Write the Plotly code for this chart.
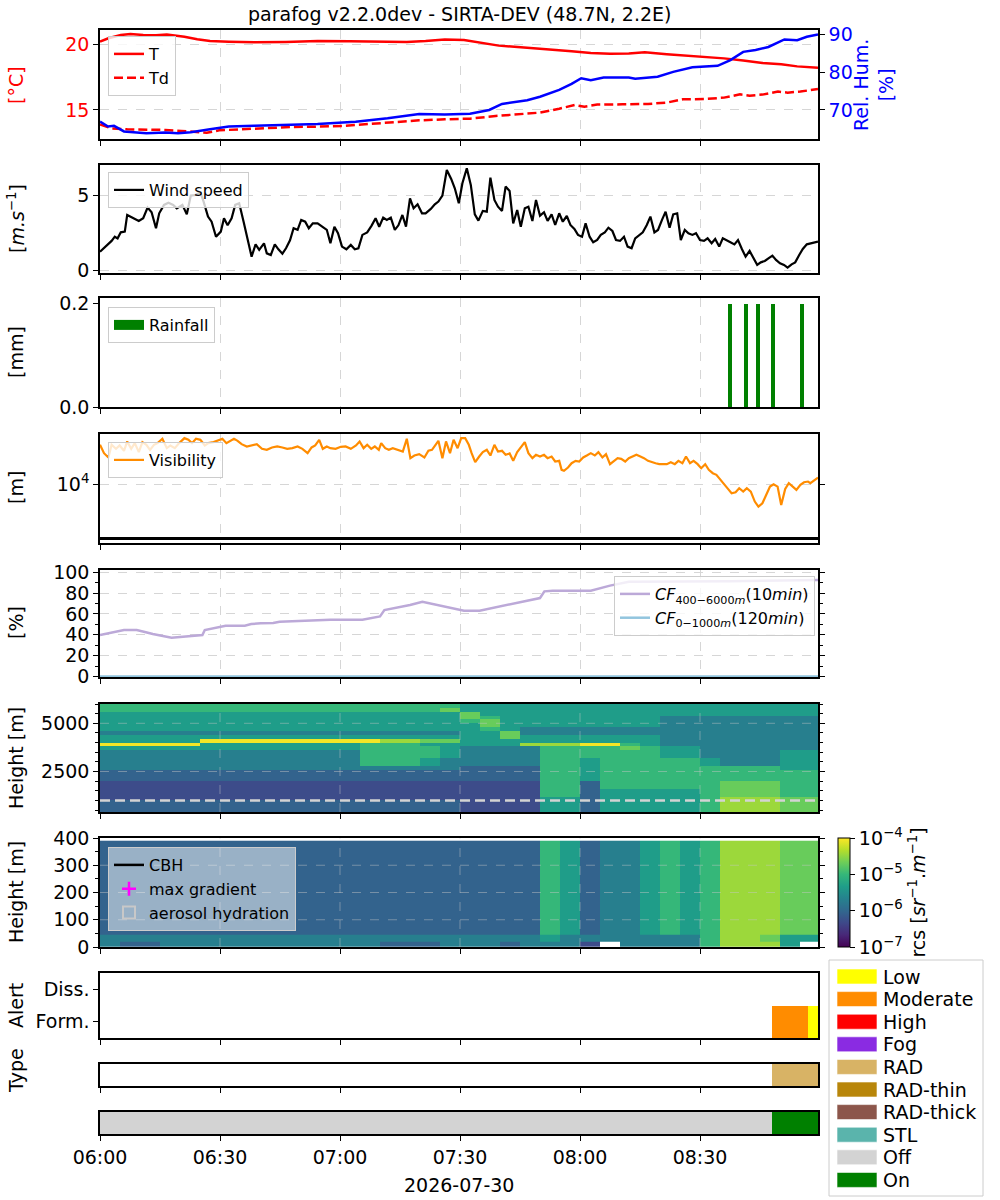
import datetime as dt
import plotly.graph_objects as go

# ------------------------------------------------------------------ data
T0 = dt.datetime(2026, 7, 30, 6, 0)
END_MIN = 179.5
TITLE = "parafog v2.2.0dev - SIRTA-DEV (48.7N, 2.2E)"
DATE_LABEL = "2026-07-30"
TICK_MIN = [0, 30, 60, 90, 120, 150]

# temperature / dew point [°C], relative humidity [%]  (minutes after 06:00)
temp_min = [0, 2.1, 5.2, 7.6, 10.8, 14, 16.7, 21.1, 24.3, 27.5,
            32.2, 38.6, 46.5, 54.4, 62.4, 70.3, 76.7, 81.4, 86.2, 91,
            94.9, 99.7, 105.2, 111.6, 117.9, 122.7, 127.5, 132.2, 136.2, 141.7,
            146.5, 151.3, 156, 160.8, 165.6, 170.3, 174.3, 179.5]
temp_c = [20.2, 20.46, 20.71, 20.79, 20.71, 20.69, 20.74, 20.58, 20.38, 20.25,
          20.2, 20.15, 20.18, 20.25, 20.23, 20.18, 20.18, 20.25, 20.36, 20.33,
          20.15, 19.9, 19.77, 19.64, 19.47, 19.34, 19.29, 19.31, 19.39, 19.24,
          19.14, 19.06, 18.93, 18.76, 18.58, 18.48, 18.32, 18.22]

dew_min = [0, 2.9, 6.8, 11.6, 16.3, 20.3, 23.5, 26.7, 29.8, 35.4,
           41.7, 48.1, 54.4, 60.8, 67.1, 73.5, 79.8, 86.2, 92.5, 98.9,
           105.2, 110, 114.8, 118.7, 121.1, 124.3, 130.6, 137, 141.7, 145.7,
           151.3, 156, 160, 162.4, 165.6, 169.5, 171.9, 175.1, 179.5]
dew_c = [13.9, 13.6, 13.53, 13.53, 13.48, 13.4, 13.32, 13.27, 13.45, 13.53,
         13.6, 13.71, 13.73, 13.78, 13.93, 14.09, 14.21, 14.29, 14.34, 14.54,
         14.7, 14.8, 15.1, 15.38, 15.25, 15.41, 15.43, 15.46, 15.56, 15.81,
         15.84, 15.94, 16.19, 16.09, 16.17, 16.4, 16.32, 16.4, 16.6]

rh_min = [0, 2, 3.5, 6, 11.6, 16.3, 19.5, 22.7, 27.5, 32.2,
          38.6, 46.5, 54.4, 63.9, 71.9, 79.8, 86.2, 92.5, 97.3, 100.5,
          106.8, 110, 114.8, 117.9, 120.3, 122.7, 125.9, 132.2, 133.8, 139.4,
          143.3, 148.1, 151.3, 154.4, 157.6, 160.8, 163.9, 167.1, 171.1, 174.3,
          176.7, 179.5]
rh_pct = [66.9, 65.6, 65.8, 64.3, 63.8, 64.0, 63.8, 64.1, 64.9, 65.6,
          65.8, 66.0, 66.3, 66.9, 67.8, 68.9, 68.8, 69.0, 70.0, 71.6,
          72.6, 73.5, 75.3, 76.9, 78.4, 77.9, 78.6, 78.6, 78.3, 78.8,
          80.1, 81.3, 81.6, 81.7, 83.2, 85.4, 85.9, 86.7, 88.7, 88.5,
          89.4, 90.0]

# wind speed [m/s]
wind_min = [0, 1.3, 2.9, 3.7, 4.4, 5.2, 6.2, 6.8, 8.4, 9.7,
            10.8, 11.9, 12.9, 14.0, 14.8, 16.0, 17.1, 18.3, 19.2, 20.6,
            21.7, 22.7, 23.8, 25.1, 25.9, 27.0, 27.9, 29.0, 30.2, 31.0,
            31.9, 32.9, 33.8, 34.8, 35.9, 37.0, 37.9, 38.9, 39.8, 41.0,
            41.7, 42.7, 43.7, 44.6, 45.6, 46.5, 47.5, 48.4, 49.4, 50.3,
            51.3, 52.2, 53.2, 54.4, 55.7, 56.7, 57.6, 58.6, 59.5, 60.5,
            61.6, 62.7, 63.7, 64.6, 65.6, 66.8, 67.9, 68.9, 69.8, 70.8,
            71.7, 72.7, 73.7, 74.6, 75.6, 76.5, 77.5, 78.4, 79.4, 80.5,
            81.4, 82.7, 83.7, 84.6, 85.6, 86.7, 87.8, 88.7, 89.7, 90.6,
            91.7, 92.7, 93.7, 94.6, 95.7, 96.7, 97.6, 98.6, 99.5, 100.5,
            101.4, 102.4, 103.3, 104.3, 105.2, 106.2, 107.1, 108.1, 109.0, 110.0,
            111.0, 111.9, 112.9, 113.8, 114.8, 115.7, 116.7, 117.6, 118.6, 119.5,
            120.5, 121.4, 122.4, 123.3, 124.3, 125.2, 126.2, 127.1, 128.1, 129.0,
            130.0, 131.0, 131.9, 132.9, 133.8, 134.8, 135.7, 136.7, 137.6, 138.6,
            139.5, 140.5, 141.4, 142.4, 143.3, 144.3, 145.2, 146.2, 147.1, 148.1,
            149.0, 150.0, 151.0, 151.9, 152.9, 153.8, 154.8, 155.7, 156.7, 157.6,
            158.6, 159.5, 160.5, 161.4, 162.4, 163.3, 164.3, 165.2, 166.2, 167.1,
            168.1, 169.0, 170.0, 171.0, 171.9, 172.9, 173.8, 174.8, 175.7, 176.7,
            179.5]
wind_ms = [1.24, 1.58, 1.96, 2.24, 2.13, 2.53, 2.58, 3.69, 3.47, 3.29,
           3.47, 4.18, 3.87, 2.8, 3.8, 4.36, 4.5, 4.36, 4.13, 4.36,
           3.73, 4.98, 5.02, 5.2, 4.58, 3.58, 3.24, 2.24, 2.58, 3.47,
           3.0, 3.47, 4.36, 4.47, 3.24, 1.9, 0.91, 1.73, 1.36, 1.8,
           1.13, 1.02, 1.73, 1.4, 1.11, 1.47, 2.0, 2.8, 2.7, 3.36,
           3.24, 2.8, 3.13, 3.13, 2.9, 2.7, 1.8, 2.9, 2.47, 1.58,
           1.4, 1.69, 1.4, 1.47, 2.36, 2.53, 2.98, 3.47, 2.9, 3.51,
           3.36, 3.51, 2.69, 3.0, 3.69, 2.91, 4.8, 4.13, 4.4, 3.8,
           3.8, 4.09, 4.4, 4.58, 4.98, 6.69, 6.09, 5.47, 4.47, 5.8,
           6.8, 5.69, 3.73, 3.31, 3.96, 3.91, 6.18, 4.69, 4.24, 3.96,
           5.58, 5.29, 3.13, 4.02, 2.91, 4.13, 4.24, 3.29, 4.69, 3.64,
           3.87, 3.29, 3.73, 3.02, 3.8, 3.24, 3.62, 3.02, 2.76, 2.36,
           2.24, 3.13, 2.24, 1.87, 2.02, 2.36, 2.53, 2.84, 2.62, 2.02,
           1.96, 2.24, 1.58, 1.47, 2.13, 2.36, 2.53, 3.02, 3.58, 2.53,
           2.69, 3.36, 3.91, 2.84, 3.73, 3.8, 2.02, 2.69, 2.47, 2.36,
           2.47, 2.02, 1.96, 2.13, 1.8, 2.09, 1.58, 2.13, 2.02, 1.87,
           1.73, 2.02, 1.4, 0.91, 1.29, 0.8, 0.36, 0.53, 0.62, 0.8,
           0.98, 0.69, 0.47, 0.36, 0.18, 0.4, 0.53, 1.02, 1.42, 1.73,
           1.91]

# rainfall [mm]
rain_min = [157.6, 161.5, 164.5, 168.25, 175.5]
rain_mm = [0.2, 0.2, 0.2, 0.2, 0.2]

# visibility [m]
vis_min = [0, 1.0, 2.1, 2.9, 4.0, 4.9, 6.0, 6.8, 7.8, 8.7,
           9.7, 10.6, 11.6, 12.5, 13.5, 14.4, 15.6, 16.7, 17.6, 18.7,
           19.8, 21.1, 22.1, 23.0, 24.0, 25.1, 26.2, 27.1, 28.4, 29.4,
           30.6, 31.6, 32.5, 33.5, 34.4, 35.4, 36.7, 37.9, 39.2, 40.5,
           41.7, 43.0, 44.3, 45.6, 46.8, 48.1, 49.4, 50.6, 51.9, 52.9,
           53.8, 54.8, 55.7, 56.7, 57.6, 58.9, 60.2, 61.4, 62.7, 64.0,
           64.9, 65.9, 66.8, 67.8, 68.7, 69.7, 70.3, 71.3, 72.2, 73.2,
           74.4, 75.7, 76.7, 77.6, 78.6, 79.8, 81.1, 82.1, 83.0, 84.0,
           84.6, 85.6, 86.5, 87.5, 88.4, 89.4, 90.3, 91.3, 92.2, 92.9,
           93.8, 94.8, 95.7, 96.7, 97.6, 98.6, 99.5, 100.5, 101.4, 102.4,
           103.3, 104.3, 105.2, 106.2, 107.1, 108.1, 109.0, 110.0, 111.0, 111.9,
           112.9, 113.8, 114.8, 115.4, 116.0, 117.0, 117.9, 118.9, 119.8, 120.8,
           121.7, 122.7, 123.7, 124.6, 125.6, 126.5, 127.5, 128.4, 129.4, 130.3,
           131.3, 132.2, 133.2, 134.1, 135.1, 136.0, 137.0, 137.9, 138.9, 139.8,
           140.8, 141.7, 142.7, 143.7, 144.6, 145.6, 146.5, 147.5, 148.4, 149.4,
           150.3, 151.3, 152.2, 153.2, 154.1, 155.1, 156.0, 157.0, 157.9, 158.9,
           159.8, 160.8, 161.7, 162.7, 163.7, 164.6, 165.6, 166.5, 167.5, 168.4,
           169.4, 170.3, 171.3, 172.2, 173.2, 174.1, 175.1, 176.0, 177.0, 177.6,
           179.5]
vis_m = [18090, 15950, 14950, 18090, 17030, 17910, 16530, 19020, 17030, 18550,
         16200, 18830, 18090, 16770, 18090, 18550, 19800, 17200, 17910, 17200,
         18550, 20000, 19500, 18550, 19800, 19500, 17910, 18550, 18830, 19210,
         19800, 18550, 19210, 19800, 19210, 18270, 17640, 17910, 18270, 17030,
         16770, 17380, 17640, 17380, 17030, 17200, 17640, 17030, 15950, 17380,
         17910, 19500, 17030, 17640, 17200, 17030, 17550, 17640, 17030, 17910,
         19020, 17200, 18090, 17030, 17640, 16770, 18550, 17200, 16770, 17200,
         16770, 16360, 19800, 14800, 15400, 15720, 14950, 16530, 16770, 18090,
         19210, 14800, 19020, 15950, 19500, 17200, 20000, 20000, 18090, 15950,
         13930, 15170, 16200, 16770, 15400, 18090, 16360, 16530, 15560, 15880,
         14210, 16200, 17380, 18830, 15950, 14800, 15560, 15170, 15560, 14800,
         15170, 14070, 14210, 12410, 12230, 12850, 13720, 14210, 14070, 14950,
         15400, 15950, 15400, 16200, 14950, 15720, 13520, 14210, 14800, 14650,
         14070, 14800, 15170, 15560, 15170, 14800, 14210, 13930, 13720, 13520,
         13520, 13520, 13930, 13520, 14210, 13720, 15170, 13720, 14210, 13520,
         12730, 13520, 12410, 11800, 11510, 10670, 9900, 9320, 8730, 8860,
         9415, 8950, 9415, 8950, 7700, 7140, 7510, 8510, 9650, 10000,
         9650, 7320, 9320, 10150, 9650, 9180, 9900, 10300, 10410, 10150,
         11060]
vis_ref_m = 4420

# cloud fraction [%]
cf_min = [0, 2.9, 6.0, 9.2, 13.2, 17.9, 21.1, 24.3, 25.6, 26.2,
          28.3, 29.8, 31.4, 36.2, 37.8, 40.2, 43.3, 44.9, 49.7, 56.0,
          57.6, 65.6, 68.7, 70.0, 71.1, 74.3, 77.5, 80.6, 84.6, 87.8,
          91.0, 94.9, 98.9, 103.7, 107.6, 110.0, 111.1, 113.2, 122.7, 127.5,
          132.2, 141.7, 157.6, 179.5]
cf_high_pct = [39.7, 42.3, 44.6, 44.6, 40.7, 37.2, 38.5, 39.1, 39.7, 44.6,
               46.2, 47.1, 48.7, 48.7, 50.3, 51.0, 51.3, 52.6, 53.2, 53.8,
               54.5, 54.5, 56.7, 57.7, 63.8, 66.3, 68.6, 71.8, 68.6, 65.4,
               63.1, 63.1, 66.3, 70.5, 73.7, 75.3, 81.7, 82.4, 82.4, 87.2,
               91.0, 91.0, 91.3, 92.6]
cf_low_min = [0, 179.5]
cf_low_pct = [0, 0]

# range-corrected signal: digit d -> log10(rcs) = rcs_levels[d], '.' = no data
rcs_levels = [-7.0, -6.6, -6.3, -6.05, -5.7, -5.35, -5.0, -4.7, -4.45, -4.05]
hm_time_edges_min = list(range(0, 181, 5))
hm_high_edges_m = list(range(400, 6001, 200))
hm_high_rows = [  # bottom (400 m) -> top (6000 m)
    "333333333" "333333333" "2222" "55" "3" "555" "55" "6" "888" "77",
    "333333333" "333333333" "2222" "55" "3" "555" "55" "6" "888" "77",
    "333333333" "333333333" "2222" "55" "3" "555" "55" "6" "888" "77",
    "222222222" "222222222" "2222" "55" "3" "555" "55" "6" "888" "77",
    "222222222" "222222222" "2222" "66" "3" "555" "55" "6" "777" "66",
    "222222222" "222222222" "2222" "66" "3" "555" "55" "6" "777" "66",
    "222222222" "222222222" "2222" "66" "3" "666" "66" "6" "777" "66",
    "222222222" "222222222" "2222" "66" "3" "666" "66" "6" "777" "66",
    "333333333" "333333333" "3333" "66" "5" "666" "66" "6" "666" "66",
    "333333333" "333333333" "3333" "66" "5" "666" "66" "6" "666" "66",
    "333333333" "333333333" "3333" "66" "5" "666" "66" "6" "666" "66",
    "444444444" "444444444" "3333" "66" "5" "666" "66" "6" "666" "55",
    "444444444" "444466654" "4444" "66" "5" "666" "66" "5" "444" "55",
    "444444444" "444466654" "4444" "66" "5" "666" "66" "5" "444" "55",
    "444444444" "444466665" "4444" "66" "6" "666" "55" "4" "444" "55",
    "444444444" "444466665" "4444" "66" "6" "666" "55" "4" "444" "55",
    "555555555" "555566665" "4444" "66" "6" "676" "55" "4" "444" "44",
    "999995555" "555566655" "5558" "88" "9" "965" "44" "4" "444" "44",
    "555559999" "999998877" "5555" "55" "5" "555" "44" "4" "444" "44",
    "555555555" "555555555" "5575" "55" "5" "555" "44" "4" "444" "44",
    "444444444" "444444444" "5574" "44" "4" "444" "44" "4" "444" "44",
    "555555555" "555555555" "5654" "44" "4" "444" "44" "4" "444" "44",
    "555555555" "555555555" "5755" "55" "5" "555" "44" "4" "444" "44",
    "555555555" "555555555" "6755" "55" "5" "555" "44" "4" "444" "44",
    "555555555" "555555555" "7655" "55" "5" "555" "44" "4" "444" "44",
    "555555555" "555555555" "7555" "55" "5" "555" "55" "5" "555" "55",
    "666666666" "666666667" "5555" "55" "5" "555" "55" "5" "555" "55",
    "666666666" "666666666" "5555" "55" "5" "555" "55" "5" "555" "55",
]
hm_low_edges_m = [0, 18, 44, 390]
hm_low_rows = [  # bottom -> top
    "433444444" "444443334" "4434" "44" "2" "." "4444" "6" "888" "5" ".",
    "444444444" "444444444" "4444" "5" "4" "4" "44444" "6" "887" "55",
    "333333333" "333333333" "3333" "6" "5" "3" "4" "4" "5" "6" "5" "6" "888" "77",
]
cf_low_top_m = 1000

# fog alert / type / status segments
alert_start_min = [168, 177]
alert_end_min = [177, 179.5]
alert_level = ["Moderate", "Low"]
type_start_min = [168]
type_end_min = [179.5]
type_label = ["RAD"]
status_start_min = [0, 168]
status_end_min = [168, 179.5]
status_label = ["Off", "On"]

cat_labels = ["Low", "Moderate", "High", "Fog", "RAD", "RAD-thin", "RAD-thick", "STL", "Off", "On"]
cat_colors = ["#ffff00", "#ff8c00", "#ff0000", "#8a2be2", "#d8b365", "#b8860b",
              "#8c564b", "#5ab4ac", "#d3d3d3", "#008000"]

# ------------------------------------------------------------------ helpers
W, H = 1000, 1200
FONT = "DejaVu Sans"
XDOM = [0.100, 0.818]
PANELS = [(30, 139), (165, 273), (298, 407), (434, 543), (570, 677),
          (704, 812), (838, 947), (973, 1038), (1064, 1086), (1112, 1134)]
CAT = dict(zip(cat_labels, cat_colors))


def tt(m):
    return T0 + dt.timedelta(minutes=m)


def times(ms):
    return [tt(m) for m in ms]


def ydom(i):
    top, bot = PANELS[i]
    return [1 - bot / H, 1 - top / H]


def px(x):
    return x / W


def py(y):
    return 1 - y / H


def decode(rows):
    return [[None if c == "." else rcs_levels[int(c)] for c in r] for r in rows]


for r in hm_high_rows + hm_low_rows:
    assert len(r) == 36, (len(r), r)

fig = go.Figure()

# panel 1
fig.add_trace(go.Scatter(x=times(temp_min), y=temp_c, name="T", mode="lines",
                         line=dict(color="red", width=2.5), xaxis="x", yaxis="y", legend="legend"))
fig.add_trace(go.Scatter(x=times(dew_min), y=dew_c, name="Td", mode="lines",
                         line=dict(color="red", width=2.5, dash="9px,4px"), xaxis="x", yaxis="y",
                         legend="legend"))
fig.add_trace(go.Scatter(x=times(rh_min), y=rh_pct, name="Rel. Hum.", mode="lines", showlegend=False,
                         line=dict(color="blue", width=2.5), xaxis="x", yaxis="y11"))
# panel 2
fig.add_trace(go.Scatter(x=times(wind_min), y=wind_ms, name="Wind speed", mode="lines",
                         line=dict(color="black", width=2.2), xaxis="x2", yaxis="y2", legend="legend2"))
# panel 3
fig.add_trace(go.Bar(x=times(rain_min), y=rain_mm, name="Rainfall", width=60000, showlegend=False,
                     marker=dict(color="green", line=dict(width=0)), xaxis="x3", yaxis="y3"))
fig.add_trace(go.Scatter(x=[None], y=[None], name="Rainfall", mode="lines",
                         line=dict(color="green", width=10), xaxis="x3", yaxis="y3", legend="legend3"))
# panel 4
fig.add_trace(go.Scatter(x=times(vis_min), y=vis_m, name="Visibility", mode="lines",
                         line=dict(color="darkorange", width=2.2), xaxis="x4", yaxis="y4", legend="legend4"))
fig.add_trace(go.Scatter(x=[tt(0), tt(END_MIN)], y=[vis_ref_m, vis_ref_m], mode="lines", showlegend=False,
                         line=dict(color="black", width=3), xaxis="x4", yaxis="y4"))
# panel 5
fig.add_trace(go.Scatter(x=times(cf_min), y=cf_high_pct, mode="lines",
                         name="<i>CF</i><sub>400−6000<i>m</i></sub>(10<i>min</i>)",
                         line=dict(color="#bca9d8", width=2.5), xaxis="x5", yaxis="y5", legend="legend5"))
fig.add_trace(go.Scatter(x=times(cf_low_min), y=cf_low_pct, mode="lines",
                         name="<i>CF</i><sub>0−1000<i>m</i></sub>(120<i>min</i>)",
                         line=dict(color="#92c5de", width=2.5), xaxis="x5", yaxis="y5", legend="legend5"))
# panel 6: rcs 400-6000 m
fig.add_trace(go.Heatmap(x=times(hm_time_edges_min), y=hm_high_edges_m, z=decode(hm_high_rows),
                         coloraxis="coloraxis", xaxis="x6", yaxis="y6", hoverinfo="skip"))
fig.add_trace(go.Scatter(x=[tt(0), tt(END_MIN)], y=[cf_low_top_m, cf_low_top_m], mode="lines",
                         showlegend=False, line=dict(color="#d3d3d3", width=2.5, dash="10px,5px"),
                         xaxis="x6", yaxis="y6"))
# panel 7: rcs 0-400 m
fig.add_trace(go.Heatmap(x=times(hm_time_edges_min), y=hm_low_edges_m, z=decode(hm_low_rows),
                         coloraxis="coloraxis", xaxis="x7", yaxis="y7", hoverinfo="skip"))
fig.add_trace(go.Scatter(x=[None], y=[None], name="CBH", mode="lines",
                         line=dict(color="black", width=2.5), xaxis="x7", yaxis="y7", legend="legend6"))
fig.add_trace(go.Scatter(x=[None], y=[None], name="max gradient", mode="markers",
                         marker=dict(symbol="cross-thin", size=10, color="magenta",
                                     line=dict(color="magenta", width=2.5)),
                         xaxis="x7", yaxis="y7", legend="legend6"))
fig.add_trace(go.Bar(x=[None], y=[None], name="aerosol hydration",
                     marker=dict(color="rgba(0,0,0,0)", line=dict(color="#c8c8c8", width=2)),
                     xaxis="x7", yaxis="y7", legend="legend6"))


# panels 8-10: segments
def seg_bars(starts, ends, labels, xa, ya, yval):
    for s, e, lab in zip(starts, ends, labels):
        fig.add_trace(go.Bar(orientation="h", y=[yval], x=[(e - s) * 60000], base=[tt(s)], width=1,
                             marker=dict(color=CAT[lab], line=dict(width=0)), showlegend=False,
                             name=lab, xaxis=xa, yaxis=ya))


seg_bars(alert_start_min, alert_end_min, alert_level, "x8", "y8", 0)
seg_bars(type_start_min, type_end_min, type_label, "x9", "y9", 0)
seg_bars(status_start_min, status_end_min, status_label, "x10", "y10", 0)

# ------------------------------------------------------------------ layout
tickfont = dict(family=FONT, size=19, color="black")
base_axis = dict(showline=True, linecolor="black", linewidth=1.5, ticks="outside", ticklen=5,
                 tickwidth=1.2, tickcolor="black", zeroline=False, automargin=False)
grid_on = dict(showgrid=True, gridcolor="#d6d6d6", griddash="dash", gridwidth=1)
grid_off = dict(showgrid=False)

layout = dict(width=W, height=H, margin=dict(l=0, r=0, t=0, b=0, pad=0, autoexpand=False),
              paper_bgcolor="white", plot_bgcolor="white",
              font=dict(family=FONT, size=19, color="black"), bargap=0, barmode="overlay")

for i in range(10):
    xn = "xaxis" if i == 0 else f"xaxis{i + 1}"
    yref = "y" if i == 0 else f"y{i + 1}"
    layout[xn] = dict(type="date", domain=XDOM, anchor=yref, range=[tt(0), tt(END_MIN)],
                      tickvals=times(TICK_MIN), tickformat="%H:%M", showticklabels=(i == 9),
                      tickfont=tickfont, mirror=True, **base_axis,
                      **(grid_on if i < 5 else grid_off))
    if i > 0:
        layout[xn]["matches"] = "x"


def minor(d):
    return dict(dtick=d, ticks="outside", ticklen=3, tickcolor="black", tickwidth=1, showgrid=False)


layout["yaxis"] = dict(domain=ydom(0), anchor="x", range=[12.79, 21.09], tickvals=[15, 20],
                       tickfont=dict(family=FONT, size=19, color="red"), mirror=True,
                       **base_axis, **grid_on)
layout["yaxis11"] = dict(overlaying="y", side="right", anchor="x", range=[62.3, 91.2],
                         tickvals=[70, 80, 90], tickfont=dict(family=FONT, size=19, color="blue"),
                         **base_axis, **grid_off)
layout["yaxis2"] = dict(domain=ydom(1), anchor="x2", range=[-0.18, 7.02], tickvals=[0, 5],
                        tickfont=tickfont, mirror=True, **base_axis, **grid_on)
layout["yaxis3"] = dict(domain=ydom(2), anchor="x3", range=[0, 0.211], tickvals=[0, 0.2],
                        tickformat=".1f", tickfont=tickfont, mirror=True, **base_axis, **grid_off)
layout["yaxis4"] = dict(domain=ydom(3), anchor="x4", type="log", range=[3.616, 4.328],
                        tickvals=[10000], ticktext=["10<sup>4</sup>"], tickfont=tickfont,
                        mirror="ticks", **base_axis, **grid_on)
layout["yaxis5"] = dict(domain=ydom(4), anchor="x5", range=[-0.5, 102.2],
                        tickvals=[0, 20, 40, 60, 80, 100], minor=minor(10), tickfont=tickfont,
                        mirror="ticks", **base_axis, **grid_on)
layout["yaxis6"] = dict(domain=ydom(5), anchor="x6", range=[400, 6000], tickvals=[2500, 5000],
                        minor=dict(minor(500), tick0=0), tickfont=tickfont, mirror="ticks",
                        **base_axis, **grid_off)
layout["yaxis7"] = dict(domain=ydom(6), anchor="x7", range=[0, 400], tickvals=[0, 100, 200, 300, 400],
                        minor=minor(50), tickfont=tickfont, mirror="ticks", **base_axis, **grid_off)
layout["yaxis8"] = dict(domain=ydom(7), anchor="x8", range=[-0.5, 1.5], tickvals=[0, 1],
                        ticktext=["Form.", "Diss."], tickfont=tickfont, mirror=True,
                        **base_axis, **grid_off)
for k in (8, 9):
    layout[f"yaxis{k + 1}"] = dict(domain=ydom(k), anchor=f"x{k + 1}", range=[-0.5, 0.5],
                                   showticklabels=False, mirror=True, showline=True, linecolor="black",
                                   linewidth=1.5, ticks="", zeroline=False, showgrid=False,
                                   automargin=False)

layout["coloraxis"] = dict(
    colorscale="Viridis", cmin=-7, cmax=-4,
    colorbar=dict(x=px(838), xanchor="left", xpad=0, ypad=0, y=py((838 + 947) / 2), yanchor="middle",
                  len=(947 - 838) / H, lenmode="fraction", thickness=12, thicknessmode="pixels",
                  outlinewidth=1, outlinecolor="black", tickvals=[-7, -6, -5, -4],
                  ticktext=["10<sup>−7</sup>", "10<sup>−6</sup>", "10<sup>−5</sup>", "10<sup>−4</sup>"],
                  ticks="outside", ticklen=5, tickcolor="black", tickfont=tickfont,
                  title=dict(text="rcs [<i>sr</i><sup>−1</sup>.<i>m</i><sup>−1</sup>]", side="right",
                             font=dict(family=FONT, size=19))))

leg_common = dict(font=dict(family=FONT, size=16, color="black"), bgcolor="rgba(255,255,255,0.8)",
                  bordercolor="#cccccc", borderwidth=1, xanchor="left", yanchor="top",
                  tracegroupgap=0)
layout["legend"] = dict(leg_common, x=px(108), y=py(36))
layout["legend2"] = dict(leg_common, x=px(108), y=py(172))
layout["legend3"] = dict(leg_common, x=px(108), y=py(307))
layout["legend4"] = dict(leg_common, x=px(108), y=py(442))
layout["legend5"] = dict(leg_common, x=px(815), y=py(576), xanchor="right")
layout["legend6"] = dict(leg_common, x=px(108), y=py(847), bgcolor="rgba(255,255,255,0.5)")

fig.update_layout(**layout)

# grid drawn over the backscatter images
shapes = []
for xa, ya in (("x6", "y6"), ("x7", "y7")):
    for m in TICK_MIN[1:]:
        shapes.append(dict(type="line", xref=xa, yref=f"{ya} domain", x0=tt(m), x1=tt(m), y0=0, y1=1,
                           line=dict(color="rgba(200,200,200,0.45)", width=1, dash="dash"), layer="above"))
for xa, ya, vals in (("x6", "y6", [2500, 5000]), ("x7", "y7", [100, 200, 300])):
    for v in vals:
        shapes.append(dict(type="line", xref=f"{xa} domain", yref=ya, x0=0, x1=1, y0=v, y1=v,
                           line=dict(color="rgba(200,200,200,0.45)", width=1, dash="dash"), layer="above"))

# category legend (bottom right)
LEG_TOP, LEG_STEP = 976.5, 22.6
shapes.append(dict(type="rect", xref="paper", yref="paper", x0=px(829), x1=px(983), y0=py(1196),
                   y1=py(960), line=dict(color="#cccccc", width=1), fillcolor="white", layer="above"))
annotations = []
for k, (lab, col) in enumerate(zip(cat_labels, cat_colors)):
    cy = LEG_TOP + k * LEG_STEP
    shapes.append(dict(type="rect", xref="paper", yref="paper", x0=px(837), x1=px(877),
                       y0=py(cy + 7.5), y1=py(cy - 7.5), fillcolor=col,
                       line=dict(color="rgba(255,255,255,0.6)", width=1), layer="above"))
    annotations.append(dict(text=lab, xref="paper", yref="paper", x=px(881), y=py(cy), xanchor="left",
                            yanchor="middle", showarrow=False, font=dict(family=FONT, size=19)))


def label(text, x, y, angle=-90, color="black", size=19):
    annotations.append(dict(text=text, xref="paper", yref="paper", x=px(x), y=py(y), xanchor="center",
                            yanchor="middle", showarrow=False, textangle=angle,
                            font=dict(family=FONT, size=size, color=color)))


label(TITLE, 459, 14, angle=0)
label("[°C]", 16, 85, color="red")
label("Rel. Hum.<br>[%]", 874, 85, color="blue")
label("[<i>m.s</i><sup>−1</sup>]", 16, 219)
label("[mm]", 16, 352)
label("[m]", 16, 488)
label("[%]", 16, 623)
label("Height [m]", 16, 758)
label("Height [m]", 16, 892)
label("Alert", 16, 1006)
label("Type", 16, 1071)
label(DATE_LABEL, 459, 1185, angle=0)

fig.update_layout(shapes=shapes, annotations=annotations)
fig.write_html("out.html", config={"displayModeBar": False},
               post_script="document.body.style.margin='0px';")
